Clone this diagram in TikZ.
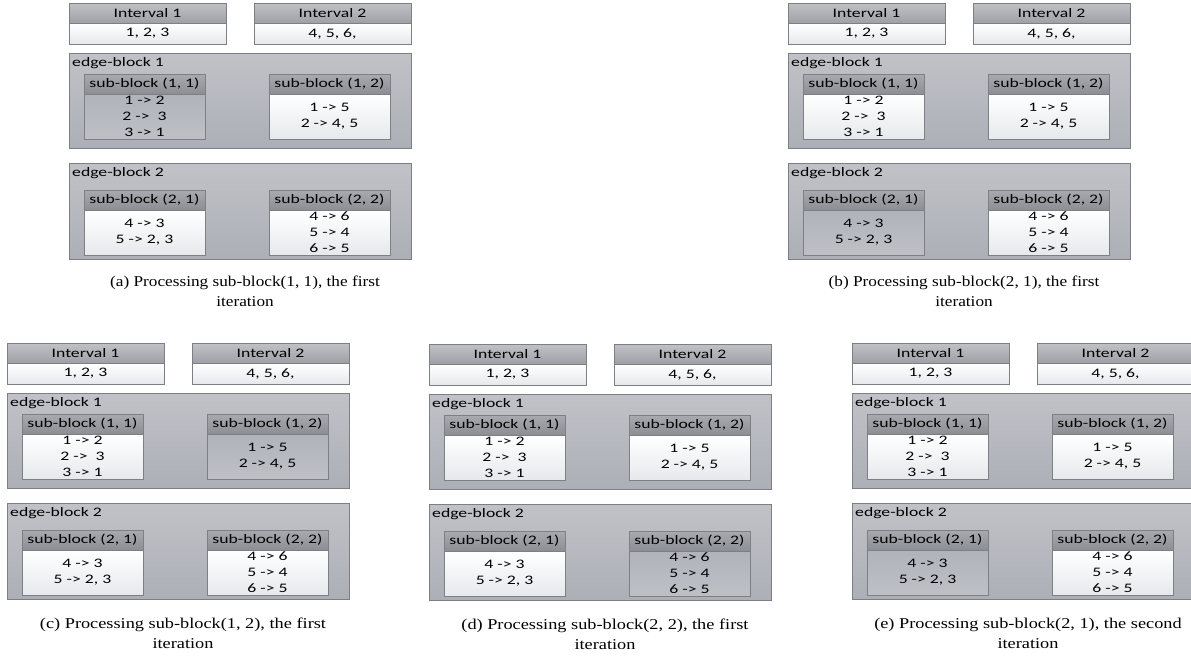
\documentclass[tikz,border=0pt]{standalone}
\usepackage{fontspec}
\setmainfont{Liberation Serif}
\newfontfamily\boxfont[FakeStretch=1.36]{Carlito}
\newfontfamily\capfont[FakeStretch=1.15]{Liberation Serif}
\newfontfamily\capfontlow[FakeStretch=1.22]{Liberation Serif}
\usetikzlibrary{positioning}
\definecolor{ebTop}{RGB}{192,194,200}
\definecolor{ebBot}{RGB}{172,175,181}
\definecolor{ebLine}{RGB}{125,127,132}
\definecolor{hdTop}{RGB}{168,170,175}
\definecolor{hdBot}{RGB}{140,142,148}
\definecolor{ihTop}{RGB}{192,194,198}
\definecolor{ihBot}{RGB}{158,160,166}
\definecolor{rowBot}{RGB}{230,233,236}
\definecolor{busyTop}{RGB}{176,179,186}
\definecolor{busyBot}{RGB}{190,192,198}

\newcommand{\drawpanel}[6]{%
\begin{scope}[shift={(#2,#3)},
    sb11/.style={idle body}, sb12/.style={idle body},
    sb21/.style={idle body}, sb22/.style={idle body},
    sb#4/.style={busy body}]
  \node[int head] (#1-ih1) at (0,0) {Interval 1};
  \node[int row] (#1-iv1) [below=0pt of #1-ih1] {1, 2, 3};
  \node[int head] (#1-ih2) at (185,0) {Interval 2};
  \node[int row] (#1-iv2) [below=0pt of #1-ih2] {4, 5, 6,};

  \node[edge block] (#1-eb1) at (0,50) {};
  \node[block label] (#1-el1) [below right=4pt and 3pt of #1-eb1.north west] {edge-block 1};
  \node[sub head] (#1-sh11) at (15,71) {sub-block (1, 1)};
  \node[sb11] (#1-sb11) [below=0pt of #1-sh11] {1 -> 2\\2 ->\ \ 3\\3 -> 1};
  \node[sub head] (#1-sh12) at (200,71) {sub-block (1, 2)};
  \node[sb12] (#1-sb12) [below=0pt of #1-sh12] {1 -> 5\\2 -> 4, 5};

  \node[edge block, minimum height=96pt] (#1-eb2) [below=15pt of #1-eb1] {};
  \node[block label] (#1-el2) [below right=4pt and 3pt of #1-eb2.north west] {edge-block 2};
  \node[sub head] (#1-sh21) at (15,187) {sub-block (2, 1)};
  \node[sb21] (#1-sb21) [below=0pt of #1-sh21] {4 -> 3\\5 -> 2, 3};
  \node[sub head] (#1-sh22) at (200,187) {sub-block (2, 2)};
  \node[sb22] (#1-sb22) [below=0pt of #1-sh22] {4 -> 6\\5 -> 4\\6 -> 5};

  \node[caption, #6] (#1-cap) at (176,273) {#5};
\end{scope}}

\begin{document}
\begin{tikzpicture}[
    x=1pt, y=-1pt,
    box/.style={rectangle, inner sep=0pt, outer sep=0pt, line width=0.8pt, draw=ebLine,
      font=\boxfont\fontsize{13}{16}\selectfont, align=center},
    int head/.style={box, anchor=north west, minimum width=157pt, minimum height=20pt,
      top color=ihTop, bottom color=ihBot},
    int row/.style={box, minimum width=157pt, minimum height=21pt,
      top color=white, bottom color=rowBot},
    edge block/.style={box, anchor=north west, minimum width=342pt, minimum height=95pt,
      top color=ebTop, bottom color=ebBot},
    block label/.style={inner sep=0pt, font=\boxfont\fontsize{13}{16}\selectfont},
    sub head/.style={box, anchor=north west, minimum width=121pt, minimum height=20pt,
      top color=hdTop, bottom color=hdBot},
    idle body/.style={box, minimum width=121pt, minimum height=45pt,
      top color=white, bottom color=rowBot},
    busy body/.style={box, minimum width=121pt, minimum height=45pt,
      top color=busyTop, bottom color=busyBot},
    caption/.style={anchor=north, align=center, inner sep=0pt},
    top cap/.style={font=\capfont\fontsize{15}{20}\selectfont},
    low cap/.style={font=\capfontlow\fontsize{15}{20}\selectfont, yshift=-2pt}
]
  \clip (0,0) rectangle (1191,656);
  \fill[white] (0,0) rectangle (1191,656);

  \drawpanel{a}{69}{3}{11}{(a) Processing sub-block(1, 1), the first\\iteration}{top cap}
  \drawpanel{b}{788}{3}{21}{(b) Processing sub-block(2, 1), the first\\iteration}{top cap}
  \drawpanel{c}{7}{343}{12}{(c) Processing sub-block(1, 2), the first\\iteration}{low cap}
  \drawpanel{d}{429}{344}{22}{(d) Processing sub-block(2, 2), the first\\iteration}{low cap}
  \drawpanel{e}{852}{343}{21}{(e) Processing sub-block(2, 1), the second\\iteration}{low cap}
\end{tikzpicture}
\end{document}
